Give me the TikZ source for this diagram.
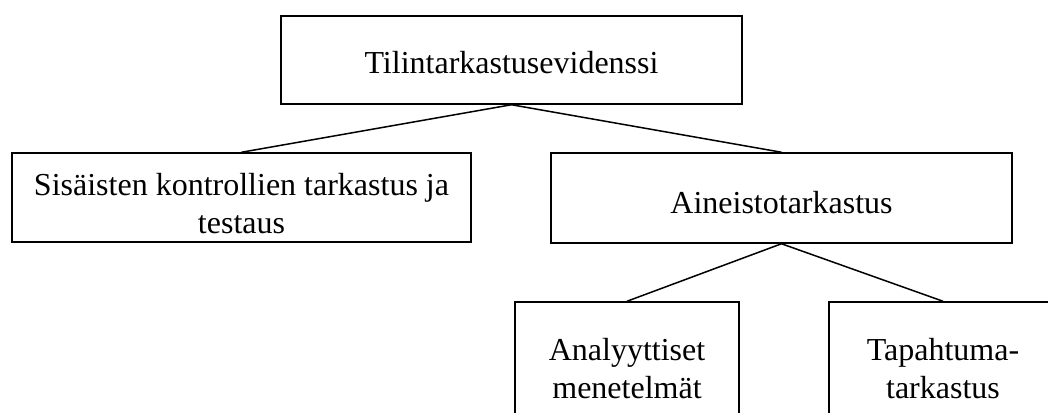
\documentclass[tikz,border=0pt]{standalone}
\usepackage{fontspec}
\setmainfont{Liberation Serif}
\begin{document}
\begin{tikzpicture}[x=1pt,y=1pt,
  box/.style={draw=black, line width=1.5pt, fill=white, inner sep=0pt, align=center,
    font=\fontsize{32}{38}\selectfont},
  lbl/.style={align=center, font=\fontsize{32}{38}\selectfont},
  link/.style={draw=black, line width=1.5pt}]
\useasboundingbox (0,0) rectangle (1048,-412);
\clip (0,0) rectangle (1048,-412);
\node[box, minimum width=461, minimum height=88] (top) at (511.5,-60) {};
\node[lbl] (topt) at (511.5,-63) {Tilintarkastusevidenssi};
\node[box, minimum width=459, minimum height=89] (left) at (241.5,-197.5) {};
\node[lbl] (leftt) at (241.5,-204) {Sisäisten kontrollien tarkastus ja\\testaus};
\node[box, minimum width=461, minimum height=90] (right) at (781.5,-198) {};
\node[lbl] (rightt) at (781.5,-203) {Aineistotarkastus};
\node[box, minimum width=224, minimum height=132] (bl) at (627,-368) {};
\node[lbl] (blt) at (627,-369) {Analyyttiset\\menetelmät};
\node[box, minimum width=228, minimum height=132] (br) at (943,-368) {};
\node[lbl] (brt) at (943,-369) {Tapahtuma-\\tarkastus};
\draw[link] (top.south) -- (left.north);
\draw[link] (top.south) -- (right.north);
\draw[link] (right.south) -- (bl.north);
\draw[link] (right.south) -- (br.north);
\end{tikzpicture}
\end{document}
